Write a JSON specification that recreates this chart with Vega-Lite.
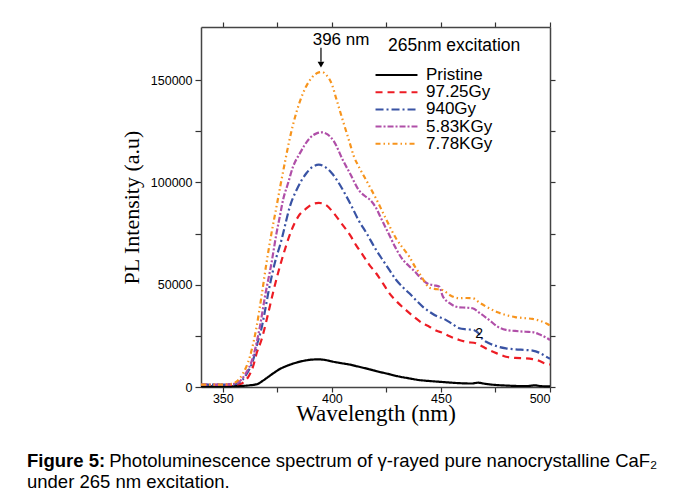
{
  "$schema": "https://vega.github.io/schema/vega-lite/v6.json",
  "width": 349,
  "height": 360,
  "autosize": {"type": "none"},
  "padding": {"left": 201, "top": 27, "right": 131, "bottom": 111},
  "background": "white",
  "config": {"view": {"stroke": null}, "font": "Liberation Sans"},
  "title": {
    "text": "Figure 5:",
    "subtitle": ["\u200b\u00a0\u00a0\u00a0\u00a0\u00a0\u00a0\u00a0\u00a0\u00a0\u00a0\u00a0\u00a0\u00a0\u00a0\u00a0\u00a0Photoluminescence spectrum of γ-rayed pure nanocrystalline CaF₂", "under 265 nm excitation."],
    "orient": "bottom",
    "anchor": "start",
    "frame": "group",
    "dx": -174,
    "offset": 26,
    "font": "Liberation Sans",
    "fontSize": 18.5,
    "fontWeight": "bold",
    "color": "black",
    "subtitleFont": "Liberation Sans",
    "subtitleFontSize": 18.5,
    "subtitleFontWeight": "normal",
    "subtitleColor": "black",
    "subtitlePadding": -18.5,
    "subtitleLineHeight": 21
  },
  "datasets": {
    "pl": [
      {"s":"Pristine","wl":340,"I":300},{"s":"Pristine","wl":350,"I":300},{"s":"Pristine","wl":358,"I":500},{"s":"Pristine","wl":362,"I":800},{"s":"Pristine","wl":366,"I":1500},{"s":"Pristine","wl":368,"I":2800},{"s":"Pristine","wl":370,"I":4300},{"s":"Pristine","wl":373,"I":6600},{"s":"Pristine","wl":376,"I":8700},{"s":"Pristine","wl":380,"I":10600},{"s":"Pristine","wl":384,"I":12000},{"s":"Pristine","wl":388,"I":13000},{"s":"Pristine","wl":391,"I":13400},{"s":"Pristine","wl":394,"I":13500},{"s":"Pristine","wl":397,"I":13200},{"s":"Pristine","wl":400,"I":12500},{"s":"Pristine","wl":404,"I":11700},{"s":"Pristine","wl":408,"I":11000},{"s":"Pristine","wl":412,"I":10000},{"s":"Pristine","wl":417,"I":8700},{"s":"Pristine","wl":421,"I":7600},{"s":"Pristine","wl":425,"I":6600},{"s":"Pristine","wl":430,"I":5300},{"s":"Pristine","wl":435,"I":4300},{"s":"Pristine","wl":440,"I":3400},{"s":"Pristine","wl":445,"I":2900},{"s":"Pristine","wl":450,"I":2500},{"s":"Pristine","wl":455,"I":2100},{"s":"Pristine","wl":460,"I":1800},{"s":"Pristine","wl":464,"I":1700},{"s":"Pristine","wl":467,"I":2100},{"s":"Pristine","wl":470,"I":1600},{"s":"Pristine","wl":475,"I":1000},{"s":"Pristine","wl":480,"I":700},{"s":"Pristine","wl":485,"I":500},{"s":"Pristine","wl":490,"I":500},{"s":"Pristine","wl":493,"I":800},{"s":"Pristine","wl":496,"I":400},{"s":"Pristine","wl":500,"I":300},

      {"s":"97.25Gy","wl":340,"I":1000},{"s":"97.25Gy","wl":350,"I":1000},{"s":"97.25Gy","wl":355,"I":1100},{"s":"97.25Gy","wl":358,"I":1500},{"s":"97.25Gy","wl":360,"I":2800},{"s":"97.25Gy","wl":362,"I":5500},{"s":"97.25Gy","wl":364,"I":10500},{"s":"97.25Gy","wl":365.5,"I":16500},{"s":"97.25Gy","wl":367.7,"I":23000},{"s":"97.25Gy","wl":370.8,"I":36000},{"s":"97.25Gy","wl":373,"I":46000},{"s":"97.25Gy","wl":375.3,"I":55600},{"s":"97.25Gy","wl":378.4,"I":67000},{"s":"97.25Gy","wl":381.5,"I":76700},{"s":"97.25Gy","wl":384.5,"I":83200},{"s":"97.25Gy","wl":388.3,"I":87300},{"s":"97.25Gy","wl":391,"I":89300},{"s":"97.25Gy","wl":394,"I":90000},{"s":"97.25Gy","wl":397,"I":89200},{"s":"97.25Gy","wl":400.5,"I":85500},{"s":"97.25Gy","wl":404,"I":80500},{"s":"97.25Gy","wl":408.5,"I":74000},{"s":"97.25Gy","wl":411,"I":69500},{"s":"97.25Gy","wl":414.2,"I":64500},{"s":"97.25Gy","wl":417,"I":60000},{"s":"97.25Gy","wl":420.3,"I":55600},{"s":"97.25Gy","wl":423.5,"I":50500},{"s":"97.25Gy","wl":426.4,"I":45800},{"s":"97.25Gy","wl":430,"I":41500},{"s":"97.25Gy","wl":434,"I":37600},{"s":"97.25Gy","wl":438,"I":34000},{"s":"97.25Gy","wl":441.6,"I":31100},{"s":"97.25Gy","wl":444.7,"I":29500},{"s":"97.25Gy","wl":448,"I":27500},{"s":"97.25Gy","wl":450.8,"I":26500},{"s":"97.25Gy","wl":454,"I":24800},{"s":"97.25Gy","wl":458.4,"I":23000},{"s":"97.25Gy","wl":462,"I":22000},{"s":"97.25Gy","wl":466,"I":21400},{"s":"97.25Gy","wl":469,"I":19800},{"s":"97.25Gy","wl":472,"I":18100},{"s":"97.25Gy","wl":476,"I":16300},{"s":"97.25Gy","wl":479.8,"I":14800},{"s":"97.25Gy","wl":484,"I":14200},{"s":"97.25Gy","wl":488.9,"I":14000},{"s":"97.25Gy","wl":492,"I":13600},{"s":"97.25Gy","wl":495,"I":12800},{"s":"97.25Gy","wl":497.5,"I":11600},{"s":"97.25Gy","wl":500,"I":11000},

      {"s":"940Gy","wl":340,"I":1200},{"s":"940Gy","wl":350,"I":1200},{"s":"940Gy","wl":355,"I":1300},{"s":"940Gy","wl":357,"I":1800},{"s":"940Gy","wl":359,"I":3500},{"s":"940Gy","wl":361,"I":6500},{"s":"940Gy","wl":363.9,"I":13200},{"s":"940Gy","wl":365.5,"I":20000},{"s":"940Gy","wl":367.7,"I":28500},{"s":"940Gy","wl":369.3,"I":37000},{"s":"940Gy","wl":370.8,"I":45800},{"s":"940Gy","wl":373.8,"I":60500},{"s":"940Gy","wl":376.9,"I":71900},{"s":"940Gy","wl":378.4,"I":78400},{"s":"940Gy","wl":380.7,"I":88100},{"s":"940Gy","wl":383.8,"I":96300},{"s":"940Gy","wl":388.3,"I":104500},{"s":"940Gy","wl":391,"I":107500},{"s":"940Gy","wl":394,"I":108700},{"s":"940Gy","wl":397,"I":107500},{"s":"940Gy","wl":400,"I":104500},{"s":"940Gy","wl":403,"I":100000},{"s":"940Gy","wl":406,"I":94500},{"s":"940Gy","wl":409,"I":88500},{"s":"940Gy","wl":412,"I":82000},{"s":"940Gy","wl":416,"I":75000},{"s":"940Gy","wl":420,"I":67500},{"s":"940Gy","wl":423.3,"I":62100},{"s":"940Gy","wl":426.5,"I":57000},{"s":"940Gy","wl":429.5,"I":52300},{"s":"940Gy","wl":432.5,"I":48800},{"s":"940Gy","wl":435.5,"I":45800},{"s":"940Gy","wl":438.5,"I":42500},{"s":"940Gy","wl":441.6,"I":39300},{"s":"940Gy","wl":444.7,"I":36800},{"s":"940Gy","wl":448.5,"I":34400},{"s":"940Gy","wl":450.8,"I":33600},{"s":"940Gy","wl":455,"I":31000},{"s":"940Gy","wl":458.4,"I":28700},{"s":"940Gy","wl":461.5,"I":28200},{"s":"940Gy","wl":464.5,"I":28000},{"s":"940Gy","wl":467,"I":26500},{"s":"940Gy","wl":469,"I":23500},{"s":"940Gy","wl":472.1,"I":21400},{"s":"940Gy","wl":476,"I":19800},{"s":"940Gy","wl":479.8,"I":18900},{"s":"940Gy","wl":484,"I":18400},{"s":"940Gy","wl":488.9,"I":18100},{"s":"940Gy","wl":492,"I":17800},{"s":"940Gy","wl":495,"I":16800},{"s":"940Gy","wl":498.8,"I":14500},{"s":"940Gy","wl":500,"I":13800},

      {"s":"5.83KGy","wl":340,"I":1200},{"s":"5.83KGy","wl":350,"I":1200},{"s":"5.83KGy","wl":355,"I":1500},{"s":"5.83KGy","wl":357,"I":2200},{"s":"5.83KGy","wl":360.1,"I":5900},{"s":"5.83KGy","wl":363.9,"I":14800},{"s":"5.83KGy","wl":367,"I":29500},{"s":"5.83KGy","wl":369.3,"I":44100},{"s":"5.83KGy","wl":372.3,"I":60500},{"s":"5.83KGy","wl":374.6,"I":75100},{"s":"5.83KGy","wl":376.1,"I":83200},{"s":"5.83KGy","wl":377.6,"I":91400},{"s":"5.83KGy","wl":379.9,"I":99600},{"s":"5.83KGy","wl":382.2,"I":107700},{"s":"5.83KGy","wl":385.3,"I":114200},{"s":"5.83KGy","wl":389.8,"I":121600},{"s":"5.83KGy","wl":393,"I":124000},{"s":"5.83KGy","wl":395.5,"I":124500},{"s":"5.83KGy","wl":398,"I":123500},{"s":"5.83KGy","wl":401,"I":120000},{"s":"5.83KGy","wl":405,"I":111000},{"s":"5.83KGy","wl":408.5,"I":104000},{"s":"5.83KGy","wl":412.5,"I":96000},{"s":"5.83KGy","wl":415,"I":93500},{"s":"5.83KGy","wl":417.5,"I":91500},{"s":"5.83KGy","wl":420,"I":88000},{"s":"5.83KGy","wl":423,"I":81500},{"s":"5.83KGy","wl":426,"I":75000},{"s":"5.83KGy","wl":429,"I":68500},{"s":"5.83KGy","wl":432,"I":63000},{"s":"5.83KGy","wl":435,"I":59500},{"s":"5.83KGy","wl":438,"I":56500},{"s":"5.83KGy","wl":441,"I":53000},{"s":"5.83KGy","wl":444,"I":50500},{"s":"5.83KGy","wl":447,"I":49700},{"s":"5.83KGy","wl":449.3,"I":49000},{"s":"5.83KGy","wl":450.8,"I":44500},{"s":"5.83KGy","wl":454,"I":41000},{"s":"5.83KGy","wl":458.4,"I":38950},{"s":"5.83KGy","wl":461.5,"I":38800},{"s":"5.83KGy","wl":464.5,"I":38500},{"s":"5.83KGy","wl":468,"I":36000},{"s":"5.83KGy","wl":472.1,"I":32750},{"s":"5.83KGy","wl":476,"I":29500},{"s":"5.83KGy","wl":479.8,"I":27900},{"s":"5.83KGy","wl":484,"I":27400},{"s":"5.83KGy","wl":488.9,"I":27000},{"s":"5.83KGy","wl":492,"I":26800},{"s":"5.83KGy","wl":495,"I":25800},{"s":"5.83KGy","wl":498.8,"I":23800},{"s":"5.83KGy","wl":500,"I":23000},

      {"s":"7.78KGy","wl":340,"I":1200},{"s":"7.78KGy","wl":350,"I":1200},{"s":"7.78KGy","wl":354,"I":1500},{"s":"7.78KGy","wl":356.3,"I":2600},{"s":"7.78KGy","wl":359.3,"I":6700},{"s":"7.78KGy","wl":362.4,"I":14800},{"s":"7.78KGy","wl":365.5,"I":29500},{"s":"7.78KGy","wl":367.7,"I":44100},{"s":"7.78KGy","wl":370,"I":60500},{"s":"7.78KGy","wl":372.3,"I":75100},{"s":"7.78KGy","wl":374.6,"I":88100},{"s":"7.78KGy","wl":376.5,"I":99000},{"s":"7.78KGy","wl":378.5,"I":110000},{"s":"7.78KGy","wl":380.5,"I":120500},{"s":"7.78KGy","wl":382.5,"I":129500},{"s":"7.78KGy","wl":385.3,"I":139500},{"s":"7.78KGy","wl":388,"I":146500},{"s":"7.78KGy","wl":391,"I":151500},{"s":"7.78KGy","wl":394,"I":153800},{"s":"7.78KGy","wl":395.5,"I":154000},{"s":"7.78KGy","wl":397.5,"I":152500},{"s":"7.78KGy","wl":400,"I":148000},{"s":"7.78KGy","wl":402,"I":141000},{"s":"7.78KGy","wl":405.1,"I":130000},{"s":"7.78KGy","wl":408,"I":120000},{"s":"7.78KGy","wl":410,"I":113000},{"s":"7.78KGy","wl":412.7,"I":107000},{"s":"7.78KGy","wl":416.3,"I":100000},{"s":"7.78KGy","wl":420.3,"I":92000},{"s":"7.78KGy","wl":424.9,"I":82000},{"s":"7.78KGy","wl":429.5,"I":72500},{"s":"7.78KGy","wl":432.5,"I":68000},{"s":"7.78KGy","wl":435.5,"I":63700},{"s":"7.78KGy","wl":438,"I":59000},{"s":"7.78KGy","wl":440.1,"I":55600},{"s":"7.78KGy","wl":442.5,"I":51500},{"s":"7.78KGy","wl":444.7,"I":48500},{"s":"7.78KGy","wl":447,"I":48000},{"s":"7.78KGy","wl":450.8,"I":47400},{"s":"7.78KGy","wl":454,"I":45000},{"s":"7.78KGy","wl":458.4,"I":43400},{"s":"7.78KGy","wl":461.5,"I":43500},{"s":"7.78KGy","wl":464.5,"I":43400},{"s":"7.78KGy","wl":468,"I":41000},{"s":"7.78KGy","wl":472.1,"I":38500},{"s":"7.78KGy","wl":476,"I":36500},{"s":"7.78KGy","wl":479.8,"I":35200},{"s":"7.78KGy","wl":484,"I":34200},{"s":"7.78KGy","wl":488.9,"I":33600},{"s":"7.78KGy","wl":492,"I":33300},{"s":"7.78KGy","wl":495,"I":32500},{"s":"7.78KGy","wl":498.8,"I":30800},{"s":"7.78KGy","wl":500,"I":30000}
    ]
  },
  "layer": [
    {
      "data": {"name": "pl"},
      "mark": {"type": "line", "strokeWidth": 2.2, "interpolate": "monotone"},
      "encoding": {
        "x": {
          "field": "wl", "type": "quantitative",
          "scale": {"domain": [340, 500], "nice": false, "zero": false},
          "axis": {
            "orient": "bottom", "values": [350, 375, 400, 425, 450, 475, 500],
            "labelExpr": "datum.value % 50 == 0 ? datum.label : ''",
            "grid": false, "tickSize": 5, "tickWidth": 1.2, "tickColor": "#333",
            "domainColor": "#444", "domainWidth": 1.5,
            "labelFont": "Liberation Sans", "labelFontSize": 12.5, "labelColor": "black", "labelPadding": 0,
            "title": "Wavelength (nm)", "titleFont": "Liberation Serif", "titleFontSize": 23,
            "titleFontWeight": "normal", "titleColor": "black", "titlePadding": -2
          }
        },
        "y": {
          "field": "I", "type": "quantitative",
          "scale": {"domain": [0, 176000], "nice": false},
          "axis": {
            "orient": "left", "values": [0, 25000, 50000, 75000, 100000, 125000, 150000],
            "labelExpr": "datum.value % 50000 == 0 ? format(datum.value, 'd') : ''",
            "grid": false, "tickSize": 6, "tickWidth": 1.2, "tickColor": "#333",
            "domainColor": "#444", "domainWidth": 1.5,
            "labelFont": "Liberation Sans", "labelFontSize": 12.5, "labelColor": "black", "labelPadding": 3,
            "title": "PL Intensity (a.u)", "titleFont": "Liberation Serif", "titleFontSize": 22,
            "titleFontWeight": "normal", "titleColor": "black", "titlePadding": 7
          }
        },
        "color": {
          "field": "s", "type": "nominal",
          "scale": {"domain": ["Pristine", "97.25Gy", "940Gy", "5.83KGy", "7.78KGy"], "range": ["#000000", "#ed1c24", "#3953a4", "#b04fa8", "#f7941d"]},
          "legend": {
            "orient": "none", "legendX": 187, "legendY": 10, "title": "265nm excitation",
            "titleFont": "Liberation Sans", "titleFontSize": 17.5, "titleFontWeight": "normal", "titleColor": "black", "titlePadding": 12,
            "labelFont": "Liberation Sans", "labelFontSize": 17, "labelColor": "black", "labelOffset": 21,
            "symbolType": "M-4,0H4", "symbolSize": 110, "symbolStrokeWidth": 2, "rowPadding": -0.8, "padding": 0
          }
        },
        "strokeDash": {
          "field": "s", "type": "nominal",
          "scale": {"domain": ["Pristine", "97.25Gy", "940Gy", "5.83KGy", "7.78KGy"], "range": [[1, 0], [7, 5], [8, 3, 2, 3], [6, 2, 2, 2], [5, 3, 1.5, 3, 1.5, 3]]},
          "legend": {
            "orient": "none", "legendX": 187, "legendY": 10, "title": "265nm excitation",
            "titleFont": "Liberation Sans", "titleFontSize": 17.5, "titleFontWeight": "normal", "titleColor": "black", "titlePadding": 12,
            "labelFont": "Liberation Sans", "labelFontSize": 17, "labelColor": "black", "labelOffset": 21,
            "symbolType": "M-4,0H4", "symbolSize": 110, "symbolStrokeWidth": 2, "rowPadding": -0.8, "padding": 0
          }
        }
      }
    },
    {
      "data": {"name": "pl"},
      "mark": {"type": "point", "opacity": 0},
      "encoding": {
        "x": {
          "field": "wl", "type": "quantitative",
          "axis": {"orient": "top", "values": [350, 375, 400, 425, 450, 475, 500], "labels": false, "title": null, "grid": false,
            "tickSize": 5, "tickWidth": 1.2, "tickColor": "#333", "domainColor": "#444", "domainWidth": 1.5}
        },
        "y": {
          "field": "I", "type": "quantitative",
          "axis": {"orient": "right", "values": [0, 25000, 50000, 75000, 100000, 125000, 150000], "labels": false, "title": null, "grid": false,
            "tickSize": 5, "tickWidth": 1.2, "tickColor": "#333", "domainColor": "#444", "domainWidth": 1.5}
        }
      }
    },
    {
      "data": {"values": [{"wl": 395, "I": 165800, "I2": 159000}]},
      "mark": {"type": "rule", "color": "black", "strokeWidth": 1.2},
      "encoding": {
        "x": {"field": "wl", "type": "quantitative", "axis": null},
        "y": {"field": "I", "type": "quantitative", "axis": null},
        "y2": {"field": "I2"}
      }
    },
    {
      "data": {"values": [{"wl": 395, "I": 157600}]},
      "mark": {"type": "point", "shape": "triangle-down", "filled": true, "color": "black", "size": 45, "opacity": 1},
      "encoding": {
        "x": {"field": "wl", "type": "quantitative", "axis": null},
        "y": {"field": "I", "type": "quantitative", "axis": null}
      }
    },
    {
      "data": {"values": [{"wl": 404.2, "I": 169600, "t": "396 nm", "fs": "a"}, {"wl": 467.5, "I": 25900, "t": "2", "fs": "b"}]},
      "mark": {"type": "text", "font": "Liberation Sans", "color": "black", "align": "center", "baseline": "middle"},
      "encoding": {
        "x": {"field": "wl", "type": "quantitative", "axis": null},
        "y": {"field": "I", "type": "quantitative", "axis": null},
        "text": {"field": "t"},
        "size": {"field": "fs", "type": "nominal", "scale": {"domain": ["a", "b"], "range": [17, 14]}, "legend": null}
      }
    }
  ],
  "resolve": {"axis": {"x": "independent", "y": "independent"}}
}
